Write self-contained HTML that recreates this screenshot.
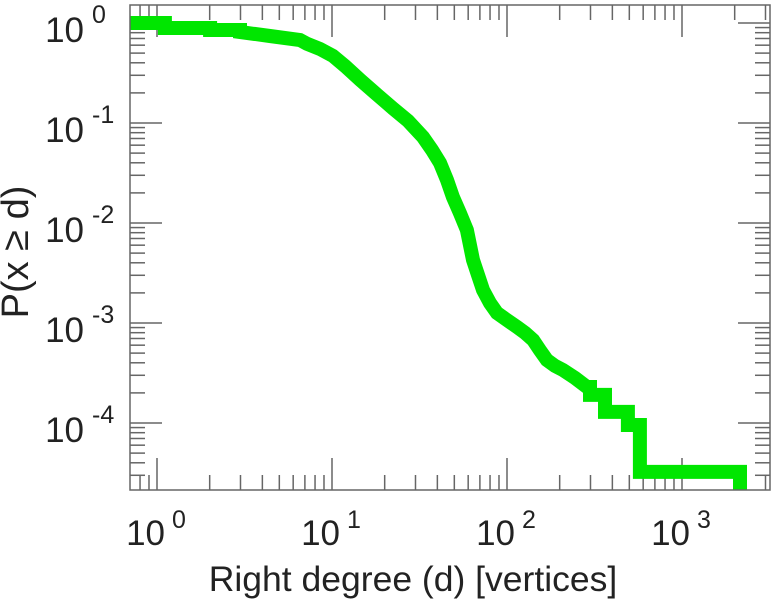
<!DOCTYPE html>
<html><head><meta charset="utf-8"><style>
body{margin:0;background:#fff;width:771px;height:600px;overflow:hidden}
svg text{font-family:"Liberation Sans",sans-serif;fill:#222}
</style></head><body>
<svg id="chart" width="771" height="600" xmlns="http://www.w3.org/2000/svg">
<g id="ticks"></g>
<path id="series" fill="none" stroke="#00e600" stroke-width="14" stroke-linejoin="miter"></path>
<rect x="130" y="5" width="640" height="485" fill="none" stroke="#666" stroke-width="1.5"/>
<g id="labels"></g>
<text x="413" y="591" font-size="35.5" text-anchor="middle" fill="#333">Right degree (d) [vertices]</text>
<text transform="translate(28,252) rotate(-90)" font-size="38" text-anchor="middle">P(x ≥ d)</text>
</svg>
<script>
const degrees=[0.70,1.11,1.11,2.01,2.01,2.98,2.98,4.42,6.56,7.20,8.54,10.1,11.9,14.5,17.6,22.3,27.2,33.1,37.3,41.4,45.4,49.1,53.8,59.0,63.9,68.3,72.9,80.0,87.7,100,114,127,141,154,169,188,209,245,286,298,298,363,363,491,491,575,575,2145,2145];
const probs=[1.0,1.0,0.891,0.891,0.851,0.851,0.813,0.741,0.676,0.62,0.55,0.47,0.37,0.27,0.2,0.14,0.105,0.0724,0.0537,0.0398,0.0269,0.0182,0.0126,0.00851,0.00427,0.00302,0.00214,0.00158,0.00126,0.00107,0.000912,0.000794,0.000676,0.000537,0.000427,0.000372,0.000339,0.000282,0.000229,0.000229,0.000191,0.000191,0.000129,0.000129,0.0000955,0.0000955,0.0000324,0.0000324,0.000018];
const xDecades=[0,1,2,3];
const yDecades=[0,-1,-2,-3,-4];
const X0=157,XD=175,Y0=23,YD=100,L=130,R=770,T=5,B=490;
function sx(v){return X0+Math.log10(v)*XD;}
function sy(v){return Math.min(B,Y0-Math.log10(v)*YD);}
const ns="http://www.w3.org/2000/svg";
let d="";
for(let i=0;i<degrees.length;i++){d+=(i?" L":"M")+sx(degrees[i]).toFixed(1)+","+sy(probs[i]).toFixed(1);}
document.getElementById('series').setAttribute('d',d);
const tg=document.getElementById('ticks'),lg=document.getElementById('labels');
function line(x1,y1,x2,y2){const l=document.createElementNS(ns,'line');l.setAttribute('x1',x1);l.setAttribute('y1',y1);l.setAttribute('x2',x2);l.setAttribute('y2',y2);l.setAttribute('stroke','#666');l.setAttribute('stroke-width','1.5');


tg.appendChild(l);}
for(let e=-1;e<=3;e++)for(let m=1;m<10;m++){const x=sx(m*Math.pow(10,e));if(x<L||x>R)continue;const len=m==1?32:15;line(x,B,x,B-len);line(x,T,x,T+len);}
for(let e=-5;e<=0;e++)for(let m=1;m<10;m++){const y=sy(m*Math.pow(10,e));if(y<T||y>=B)continue;const len=m==1?32:15;line(L,y,L+len,y);line(R,y,R-len,y);}
function txt(x,y,s,size,anchor){const t=document.createElementNS(ns,'text');t.setAttribute('x',x);t.setAttribute('y',y);t.setAttribute('font-size',size);t.setAttribute('text-anchor',anchor);t.setAttribute('fill','#333');


t.textContent=s;lg.appendChild(t);}
xDecades.forEach(e=>{const x=sx(Math.pow(10,e));txt(x+8,545,'10',35,'end');txt(x+15,528,String(e),25,'start');});
yDecades.forEach(e=>{const y=sy(Math.pow(10,e));txt(84,y+19,'10',35,'end');txt(92,y+0,String(e),25,'start');});
</script>
</body></html>
